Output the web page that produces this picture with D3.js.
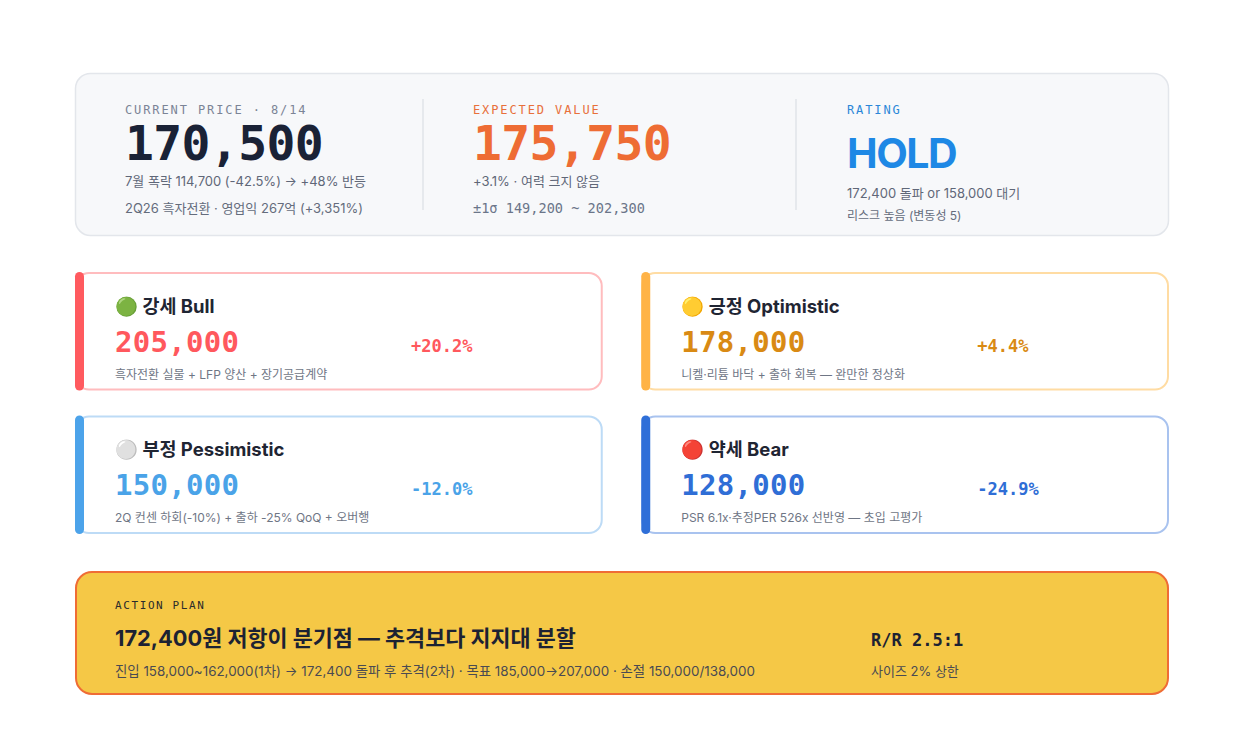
<!DOCTYPE html>
<html>
<head>
<meta charset="utf-8">
<title>Scenario board</title>
<script src="https://cdn.jsdelivr.net/npm/d3@7/dist/d3.min.js"></script>
<style>
  body { margin: 0; background: #fff; }
  svg { display: block; }
  .mono { font-family: "DejaVu Sans Mono", monospace; }
  .sans { font-family: Inter, "Noto Sans CJK KR", sans-serif; }
</style>
</head>
<body>
<svg id="board" width="1243" height="748"></svg>
<script>
// summary row
var summaryLabels = ['CURRENT PRICE · 8/14', 'EXPECTED VALUE', 'RATING'];
var summaryMain = ['170,500', '175,750', 'HOLD'];
var summaryLine1 = ['7월 폭락 114,700 (-42.5%) → +48% 반등', '+3.1% · 여력 크지 않음', '172,400 돌파 or 158,000 대기'];
var summaryLine2 = ['2Q26 흑자전환 · 영업익 267억 (+3,351%)', '±1σ 149,200 ~ 202,300', '리스크 높음 (변동성 5)'];

// scenarios
var scenarioIcons = ['🟢', '🟡', '⚪', '🔴'];
var scenarioNames = ['강세 Bull', '긍정 Optimistic', '부정 Pessimistic', '약세 Bear'];
var scenarioPrices = [205000, 178000, 150000, 128000];
var scenarioChange = ['+20.2%', '+4.4%', '-12.0%', '-24.9%'];
var scenarioNotes = [
  '흑자전환 실물 + LFP 양산 + 장기공급계약',
  '니켈·리튬 바닥 + 출하 회복 — 완만한 정상화',
  '2Q 컨센 하회(-10%) + 출하 -25% QoQ + 오버행',
  'PSR 6.1x·추정PER 526x 선반영 — 초입 고평가'
];

// action plan
var planLabel = 'ACTION PLAN';
var planTitle = '172,400원 저항이 분기점 — 추격보다 지지대 분할';
var planDetail = '진입 158,000~162,000(1차) → 172,400 돌파 후 추격(2차) · 목표 185,000→207,000 · 손절 150,000/138,000';
var planRatio = 'R/R 2.5:1';
var planSize = '사이즈 2% 상한';

var svg = d3.select('#board');
var fmt = d3.format(',');

// ---- summary card
var head = svg.append('g');
head.append('rect')
  .attr('x', 75.5).attr('y', 73.5).attr('width', 1093).attr('height', 162)
  .attr('rx', 15).attr('fill', '#f7f8fa').attr('stroke', '#e3e6eb').attr('stroke-width', 1.5);

var colX = d3.scaleOrdinal().domain([0, 1, 2]).range([125, 473, 847]);
var labelColors = ['#7b8496', '#e8703a', '#2b87d8'];
var mainColors = ['#1a2236', '#ee6c34', '#1e88e5'];

[423, 796].forEach(function (x) {
  head.append('line').attr('x1', x).attr('x2', x).attr('y1', 99).attr('y2', 210)
    .attr('stroke', '#e1e4e9').attr('stroke-width', 1.5);
});

var cols = head.selectAll('.col').data(summaryLabels).enter().append('g')
  .attr('class', 'col')
  .attr('transform', function (d, i) { return 'translate(' + colX(i) + ',0)'; });

cols.append('text').attr('class', 'mono')
  .attr('y', 114).attr('font-size', 12).attr('letter-spacing', 1.9)
  .attr('fill', function (d, i) { return labelColors[i]; })
  .text(function (d) { return d; });

cols.append('text')
  .attr('class', function (d, i) { return i < 2 ? 'mono' : 'sans'; })
  .attr('y', function (d, i) { return i < 2 ? 160 : 168; })
  .attr('font-size', function (d, i) { return i < 2 ? 48 : 41; })
  .attr('font-weight', 700)
  .attr('letter-spacing', function (d, i) { return i < 2 ? -0.6 : -1.5; })
  .attr('fill', function (d, i) { return mainColors[i]; })
  .text(function (d, i) { return summaryMain[i]; });

cols.append('text').attr('class', 'sans')
  .attr('y', function (d, i) { return i < 2 ? 186 : 198; })
  .attr('font-size', 13).attr('fill', '#5f6778')
  .text(function (d, i) { return summaryLine1[i]; });

cols.append('text')
  .attr('class', function (d, i) { return i === 1 ? 'mono' : 'sans'; })
  .attr('y', function (d, i) { return i < 2 ? 213 : 220; })
  .attr('font-size', function (d, i) { return i === 2 ? 12 : (i === 1 ? 13.6 : 13); })
  .attr('fill', function (d, i) { return i === 1 ? '#6b7589' : '#646c7c'; })
  .text(function (d, i) { return summaryLine2[i]; });

// ---- scenario cards
var gx = d3.scaleBand().domain([0, 1]).range([75, 1169]).paddingInner(0.068);
var gy = d3.scaleBand().domain([0, 1]).range([272, 534]).paddingInner(0.174);

var accent = ['#ff5a5f', '#ffb347', '#4ca3ea', '#2f6fd8'];
var border = ['#ffbcbe', '#ffdca3', '#bddbf6', '#a9c3ef'];
var valueColor = ['#ff585d', '#d98a14', '#4aa3e8', '#2f6ed6'];

var cards = svg.selectAll('.card').data(scenarioNames).enter().append('g')
  .attr('class', 'card')
  .attr('transform', function (d, i) { return 'translate(' + gx(i % 2) + ',' + gy(Math.floor(i / 2)) + ')'; });

cards.append('rect')
  .attr('x', 1).attr('y', 1)
  .attr('width', gx.bandwidth() - 2).attr('height', gy.bandwidth() - 2)
  .attr('rx', 13).attr('fill', '#fff')
  .attr('stroke', function (d, i) { return border[i]; }).attr('stroke-width', 2);

cards.append('rect')
  .attr('x', 0).attr('y', 0).attr('width', 9).attr('height', gy.bandwidth())
  .attr('rx', 4.5)
  .attr('fill', function (d, i) { return accent[i]; });

cards.append('text').attr('class', 'sans')
  .attr('x', 40).attr('y', 41).attr('font-size', 18.5).attr('font-weight', 700)
  .attr('fill', '#1f2533')
  .text(function (d, i) { return scenarioIcons[i] + ' ' + d; });

cards.append('text').attr('class', 'mono')
  .attr('x', 40).attr('y', 80).attr('font-size', 29).attr('font-weight', 700)
  .attr('letter-spacing', 0.3)
  .attr('fill', function (d, i) { return valueColor[i]; })
  .text(function (d, i) { return fmt(scenarioPrices[i]); });

cards.append('text').attr('class', 'mono')
  .attr('x', 336).attr('y', 80).attr('font-size', 17).attr('font-weight', 700)
  .attr('fill', function (d, i) { return valueColor[i]; })
  .text(function (d, i) { return scenarioChange[i]; });

cards.append('text').attr('class', 'sans')
  .attr('x', 40).attr('y', 107).attr('font-size', 12).attr('fill', '#6f7685')
  .text(function (d, i) { return scenarioNotes[i]; });

// ---- action plan
var plan = svg.append('g').attr('transform', 'translate(75,571)');
plan.append('rect')
  .attr('x', 1).attr('y', 1).attr('width', 1092).attr('height', 122)
  .attr('rx', 16).attr('fill', '#f5c846').attr('stroke', '#ef6c35').attr('stroke-width', 2);

plan.append('text').attr('class', 'mono')
  .attr('x', 40).attr('y', 38).attr('font-size', 11).attr('letter-spacing', 1.6)
  .attr('fill', '#2b2b2b').text(planLabel);

plan.append('text').attr('class', 'sans')
  .attr('x', 40).attr('y', 75).attr('font-size', 21.8).attr('font-weight', 700)
  .attr('fill', '#1c2233').text(planTitle);

plan.append('text').attr('class', 'sans')
  .attr('x', 40).attr('y', 105).attr('font-size', 13.4).attr('fill', '#4a4a52')
  .text(planDetail);

plan.append('text').attr('class', 'mono')
  .attr('x', 796).attr('y', 75).attr('font-size', 17).attr('font-weight', 700)
  .attr('fill', '#1c2233').text(planRatio);

plan.append('text').attr('class', 'sans')
  .attr('x', 796).attr('y', 105).attr('font-size', 13).attr('fill', '#4a4a52')
  .text(planSize);
</script>
</body>
</html>
